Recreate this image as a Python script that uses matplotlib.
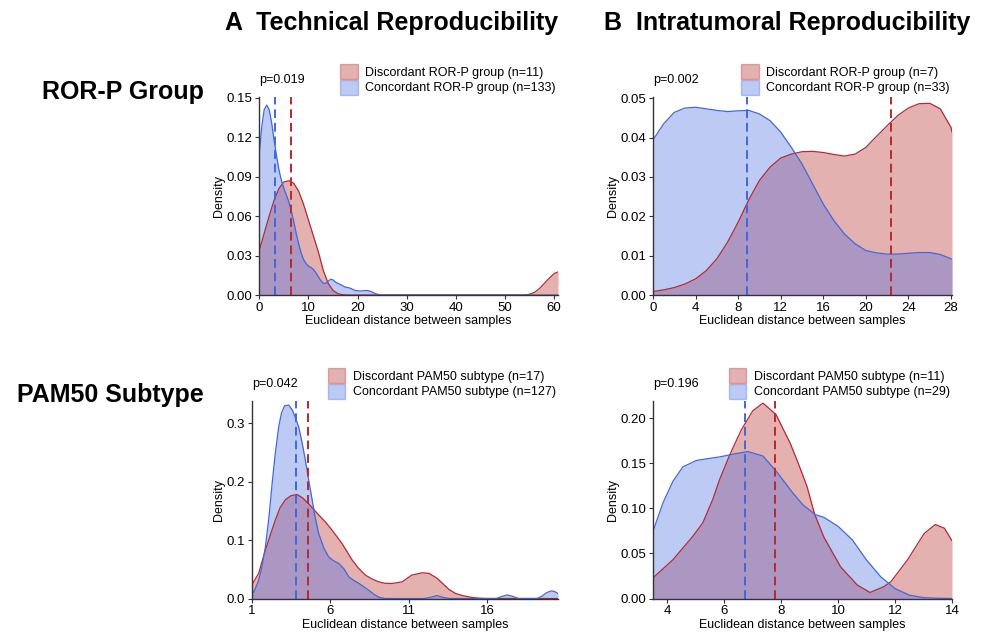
import numpy as np
import matplotlib
matplotlib.use("Agg")
import matplotlib.pyplot as plt
from matplotlib.patches import Patch

plt.rcParams['font.family'] = ['Liberation Sans', 'DejaVu Sans']
plt.rcParams['font.size'] = 9

RED_LINE = '#b8282f'
BLUE_LINE = '#3f68e0'
RED_FILL = '#b22222'
BLUE_FILL = '#4169e1'

# ---- A / ROR-P group (technical) ----
a1_red_x = [0, 1, 2, 3, 4, 5, 6, 7, 8, 9, 10, 11, 12, 13, 14, 15, 16, 17, 18,
            54, 55, 56, 57, 58, 59, 60, 60.8]
a1_red_y = [0.034, 0.047, 0.060, 0.072, 0.081, 0.086, 0.0868, 0.085, 0.079, 0.069,
            0.057, 0.045, 0.033, 0.019, 0.009, 0.0035, 0.001, 0.0002, 0,
            0, 0.0006, 0.002, 0.0048, 0.0088, 0.0128, 0.0163, 0.0176]
a1_blue_x = [0, 0.5, 1, 1.5, 2, 2.5, 3, 3.5, 4, 4.5, 5, 5.5, 6, 6.5, 7, 7.5, 8, 8.5,
             9, 9.5, 10, 10.5, 11, 11.5, 12, 12.5, 13, 13.5, 14, 14.5, 15, 15.5, 16,
             16.5, 17, 17.5, 18, 18.5, 19, 19.5, 20, 20.5, 21, 21.5, 22, 22.5, 23,
             23.5, 24, 24.5, 25, 60.8]
a1_blue_y = [0.108, 0.128, 0.141, 0.1444, 0.141, 0.131, 0.118, 0.106, 0.095, 0.087,
             0.081, 0.076, 0.071, 0.064, 0.056, 0.047, 0.039, 0.032, 0.027, 0.024,
             0.022, 0.021, 0.0195, 0.017, 0.014, 0.011, 0.009, 0.0088, 0.0105, 0.012,
             0.0115, 0.0098, 0.0089, 0.008, 0.007, 0.006, 0.0057, 0.0052, 0.0043,
             0.0035, 0.0032, 0.0031, 0.0032, 0.0034, 0.0034, 0.0030, 0.0022, 0.0013,
             0.0006, 0.0002, 0, 0]
a1_means = [6.5, 3.1]          # red, blue
a1_labels = ['Discordant ROR-P group (n=11)', 'Concordant ROR-P group (n=133)']

# ---- B / ROR-P group (intratumoral) ----
b1_x = list(range(0, 29)) + [28.1]
b1_red_y = [0.0009, 0.0013, 0.0019, 0.0028, 0.0041, 0.0062, 0.0092, 0.0134, 0.0185,
            0.0242, 0.0291, 0.0325, 0.0348, 0.0358, 0.0364, 0.0365, 0.0362, 0.0357,
            0.0353, 0.0358, 0.0375, 0.0403, 0.043, 0.0456, 0.0475, 0.0486, 0.0487,
            0.0473, 0.0426, 0.0414]
b1_blue_y = [0.0394, 0.0435, 0.0464, 0.0475, 0.0477, 0.0473, 0.0469, 0.0466, 0.0468,
             0.0469, 0.046, 0.0443, 0.0414, 0.0375, 0.0333, 0.0282, 0.0231, 0.0189,
             0.0155, 0.013, 0.0113, 0.0107, 0.0104, 0.0104, 0.0106, 0.0108, 0.0108,
             0.0103, 0.0092, 0.0091]
b1_means = [22.4, 8.8]
b1_labels = ['Discordant ROR-P group (n=7)', 'Concordant ROR-P group (n=33)']

# ---- A / PAM50 subtype (technical) ----
a2_red_x = [1.0, 1.44, 1.87, 2.2, 2.5, 2.8, 3.14, 3.5, 3.89, 4.25, 4.63, 5.27, 5.7,
            6.12, 6.76, 7.4, 7.8, 8.25, 8.7, 9.1, 9.5, 9.95, 10.59, 11.2, 11.87,
            12.3, 12.8, 13.2, 13.6, 14.0, 14.5, 15.0, 15.5, 16.0, 20.53]
a2_red_y = [0.023, 0.043, 0.083, 0.11, 0.134, 0.155, 0.169, 0.176, 0.178, 0.172,
            0.162, 0.143, 0.131, 0.117, 0.094, 0.066, 0.052, 0.04, 0.033, 0.0285,
            0.026, 0.0257, 0.0285, 0.04, 0.044, 0.043, 0.035, 0.025, 0.015, 0.0086,
            0.0046, 0.002, 0.0005, 0, 0]
a2_blue_x = [1.0, 1.2, 1.44, 1.65, 1.87, 2.1, 2.3, 2.5, 2.72, 2.9, 3.1, 3.36, 3.6,
             3.8, 3.99, 4.2, 4.42, 4.63, 4.85, 5.05, 5.27, 5.6, 5.91, 6.2, 6.55, 6.9,
             7.19, 7.5, 7.83, 8.15, 8.47, 8.8, 9.1, 9.5, 12.0, 12.4, 12.8, 13.2, 13.6,
             16.6, 17.0, 17.3, 17.6, 18.0, 19.2, 19.5, 19.8, 20.1, 20.3, 20.53]
a2_blue_y = [0.0057, 0.015, 0.031, 0.055, 0.088, 0.14, 0.197, 0.248, 0.294, 0.318,
             0.33, 0.331, 0.322, 0.308, 0.294, 0.268, 0.237, 0.203, 0.169, 0.138,
             0.111, 0.086, 0.071, 0.065, 0.06, 0.05, 0.037, 0.031, 0.026, 0.02, 0.014,
             0.007, 0.0023, 0, 0, 0.002, 0.005, 0.002, 0, 0, 0.004, 0.006, 0.004, 0,
             0, 0.004, 0.010, 0.013, 0.012, 0.0086]
a2_means = [4.57, 3.83]
a2_labels = ['Discordant PAM50 subtype (n=17)', 'Concordant PAM50 subtype (n=127)']

# ---- B / PAM50 subtype (intratumoral) ----
b2_red_x = [3.5, 4.2, 4.9, 5.25, 5.6, 5.84, 6.19, 6.6, 7.0, 7.36, 7.82, 8.32, 8.6,
            8.91, 9.17, 9.5, 10.09, 10.67, 11.12, 11.6, 11.85, 12.44, 13.02, 13.41,
            13.73, 14.0]
b2_red_y = [0.0229, 0.043, 0.069, 0.084, 0.11, 0.132, 0.159, 0.187, 0.208, 0.2167,
            0.204, 0.172, 0.15, 0.124, 0.094, 0.068, 0.035, 0.015, 0.0067, 0.013,
            0.0185, 0.043, 0.072, 0.082, 0.078, 0.064]
b2_blue_x = [3.5, 3.85, 4.2, 4.55, 5.02, 5.4, 5.84, 6.3, 6.83, 7.36, 7.83, 8.41, 8.76,
             9.2, 9.5, 10.0, 10.5, 11.0, 11.5, 12.0, 12.5, 13.0, 13.5, 14.0]
b2_blue_y = [0.0745, 0.106, 0.13, 0.146, 0.153, 0.155, 0.157, 0.16, 0.163, 0.158,
             0.141, 0.117, 0.104, 0.093, 0.09, 0.08, 0.065, 0.0426, 0.024, 0.011,
             0.0037, 0.001, 0.0003, 0]
b2_means = [7.8, 6.74]
b2_labels = ['Discordant PAM50 subtype (n=11)', 'Concordant PAM50 subtype (n=29)']

p_values = ['p=0.019', 'p=0.002', 'p=0.042', 'p=0.196']


def density_panel(ax, rx, ry, bx, by, means, labels, pval, xlim, ylim, xticks, yticks, yfmt):
    ax.fill_between(rx, ry, 0, color=RED_FILL, alpha=0.35, linewidth=0)
    ax.plot(rx, ry, color=RED_LINE, lw=0.9)
    ax.fill_between(bx, by, 0, color=BLUE_FILL, alpha=0.35, linewidth=0)
    ax.plot(bx, by, color=BLUE_LINE, lw=0.9)
    ax.axvline(means[0], color=RED_LINE, lw=1.4, ls=(0, (4.5, 2.5)))
    ax.axvline(means[1], color=BLUE_LINE, lw=1.4, ls=(0, (4.5, 2.5)))
    ax.set_xlim(*xlim)
    ax.set_ylim(*ylim)
    ax.set_xticks(xticks)
    ax.set_yticks(yticks)
    ax.set_yticklabels([yfmt.format(v) for v in yticks])
    for s in ['top', 'right']:
        ax.spines[s].set_visible(False)
    for s in ['left', 'bottom']:
        ax.spines[s].set_color('#333333')
        ax.spines[s].set_linewidth(1.0)
    ax.tick_params(length=3, width=0.8, color='#333333', labelsize=9.5, pad=2)
    ax.set_xlabel('Euclidean distance between samples', fontsize=9, labelpad=1)
    ax.set_ylabel('Density', fontsize=9, labelpad=1)
    ax.annotate(pval, xy=(0, 1), xycoords='axes fraction', xytext=(0, 8),
                textcoords='offset points', ha='left', va='bottom', fontsize=9)
    handles = [Patch(facecolor=RED_FILL, alpha=0.35, edgecolor=RED_LINE),
               Patch(facecolor=BLUE_FILL, alpha=0.35, edgecolor=BLUE_LINE)]
    leg = ax.legend(handles, labels, loc='lower right', bbox_to_anchor=(1.0, 1.0),
                    frameon=False, fontsize=9, handlelength=1.4, handleheight=1.4,
                    labelspacing=0.1, borderpad=0.1, borderaxespad=0.1, handletextpad=0.6)
    for h in leg.legend_handles:
        h.set_linewidth(1.0)


fig = plt.figure(figsize=(9.83, 6.32), dpi=100)
ax1 = fig.add_axes([0.2638, 0.5332, 0.3039, 0.3133])
ax2 = fig.add_axes([0.6643, 0.5332, 0.3042, 0.3133])
ax3 = fig.add_axes([0.2561, 0.0530, 0.3116, 0.3125])
ax4 = fig.add_axes([0.6643, 0.0530, 0.3042, 0.3125])

density_panel(ax1, a1_red_x, a1_red_y, a1_blue_x, a1_blue_y, a1_means, a1_labels,
              p_values[0], (0, 60.8), (0, 0.1505), range(0, 61, 10),
              [0, 0.03, 0.06, 0.09, 0.12, 0.15], '{:.2f}')
density_panel(ax2, b1_x, b1_red_y, b1_x, b1_blue_y, b1_means, b1_labels,
              p_values[1], (0, 28.1), (0, 0.0503), range(0, 29, 4),
              [0, 0.01, 0.02, 0.03, 0.04, 0.05], '{:.2f}')
density_panel(ax3, a2_red_x, a2_red_y, a2_blue_x, a2_blue_y, a2_means, a2_labels,
              p_values[2], (1, 20.53), (0, 0.338), [1, 6, 11, 16],
              [0, 0.1, 0.2, 0.3], '{:.1f}')
density_panel(ax4, b2_red_x, b2_red_y, b2_blue_x, b2_blue_y, b2_means, b2_labels,
              p_values[3], (3.5, 14), (0, 0.219), range(4, 15, 2),
              [0, 0.05, 0.10, 0.15, 0.20], '{:.2f}')

fig.text(392 / 983, 1 - 23 / 632, 'A  Technical Reproducibility', ha='center', va='center',
         fontsize=18, fontweight='bold')
fig.text(787 / 983, 1 - 23 / 632, 'B  Intratumoral Reproducibility', ha='center', va='center',
         fontsize=18, fontweight='bold')
fig.text(204 / 983, 1 - 92 / 632, 'ROR-P Group', ha='right', va='center',
         fontsize=18, fontweight='bold')
fig.text(204 / 983, 1 - 395 / 632, 'PAM50 Subtype', ha='right', va='center',
         fontsize=18, fontweight='bold')

fig.savefig('out.png', dpi=100)
